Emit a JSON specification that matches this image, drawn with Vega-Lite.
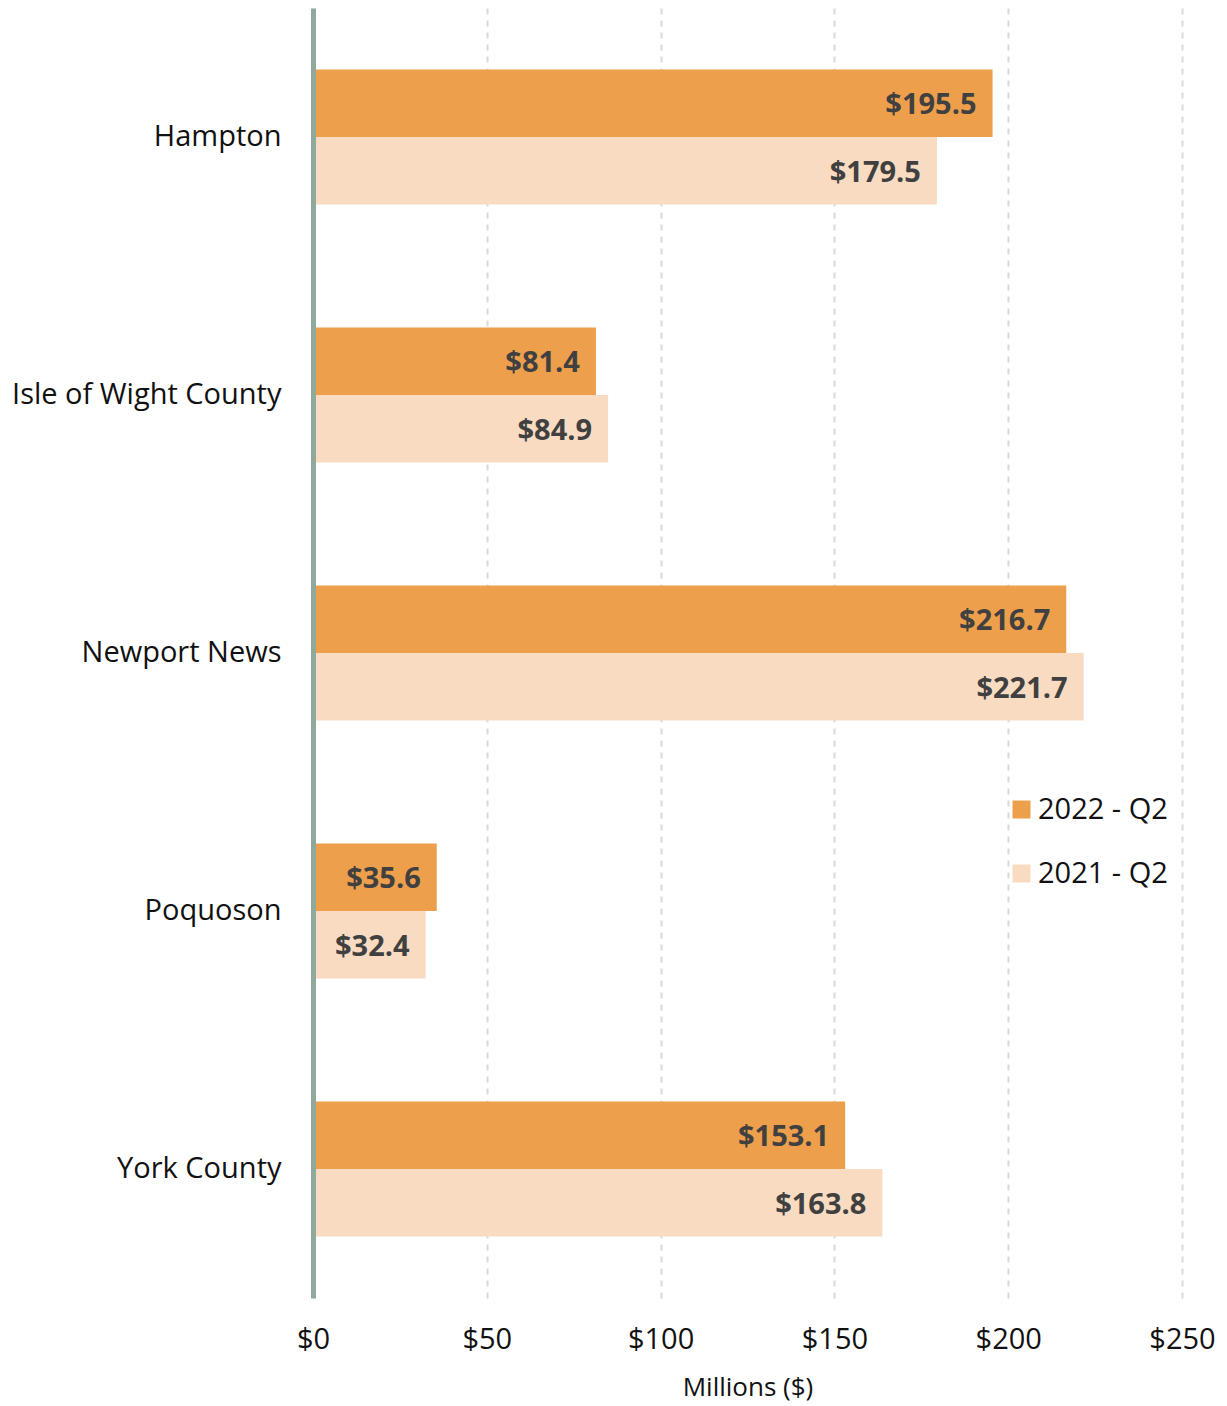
{
  "$schema": "https://vega.github.io/schema/vega-lite/v6.json",
  "autosize": "none",
  "width": 869,
  "height": 1290,
  "padding": {"left": 313, "top": 8, "right": 45, "bottom": 108},
  "background": "white",
  "config": {
    "font": "Open Sans",
    "view": {"stroke": null}
  },
  "data": {
    "values": [
      {"area": "Hampton", "period": "2022 - Q2", "value": 195.5},
      {"area": "Hampton", "period": "2021 - Q2", "value": 179.5},
      {"area": "Isle of Wight County", "period": "2022 - Q2", "value": 81.4},
      {"area": "Isle of Wight County", "period": "2021 - Q2", "value": 84.9},
      {"area": "Newport News", "period": "2022 - Q2", "value": 216.7},
      {"area": "Newport News", "period": "2021 - Q2", "value": 221.7},
      {"area": "Poquoson", "period": "2022 - Q2", "value": 35.6},
      {"area": "Poquoson", "period": "2021 - Q2", "value": 32.4},
      {"area": "York County", "period": "2022 - Q2", "value": 153.1},
      {"area": "York County", "period": "2021 - Q2", "value": 163.8}
    ]
  },
  "encoding": {
    "y": {
      "field": "area", "type": "nominal", "title": null,
      "scale": {"paddingInner": 0.477, "paddingOuter": 0.2385},
      "axis": {
        "domain": true, "domainColor": "#8fa99b", "domainWidth": 5,
        "ticks": false, "labelFontSize": 29, "labelColor": "#111111",
        "labelPadding": 32, "labelLimit": 400, "zindex": 1
      }
    },
    "yOffset": {
      "field": "period", "type": "nominal",
      "sort": ["2022 - Q2", "2021 - Q2"],
      "scale": {"paddingInner": 0, "paddingOuter": 0}
    },
    "x": {
      "field": "value", "type": "quantitative",
      "title": "Millions ($)",
      "scale": {"domain": [0, 250], "nice": false},
      "axis": {
        "values": [0, 50, 100, 150, 200, 250],
        "format": "$,.0f",
        "domain": false, "ticks": false, "labelFlush": false, "labelBound": false, "labelOverlap": false,
        "grid": true, "gridColor": "#d9d9d9", "gridDash": [6, 6], "gridWidth": 2,
        "labelFontSize": 29, "labelColor": "#111111", "labelPadding": 27,
        "titleFontSize": 26, "titleFontWeight": "normal", "titleColor": "#111111",
        "titlePadding": 20
      }
    }
  },
  "layer": [
    {
      "mark": {"type": "bar"},
      "encoding": {
        "color": {
          "field": "period", "type": "nominal",
          "sort": ["2022 - Q2", "2021 - Q2"],
          "scale": {"domain": ["2022 - Q2", "2021 - Q2"], "range": ["#EE9F4C", "#F8DBC0"]},
          "legend": {
            "title": null, "orient": "none", "legendX": 694, "legendY": 787, "padding": 0,
            "symbolType": "square", "symbolSize": 324, "symbolStrokeWidth": 0,
            "labelFontSize": 29, "labelColor": "#111111", "rowPadding": 34,
            "labelOffset": 2
          }
        }
      }
    },
    {
      "mark": {"type": "text", "align": "right", "dx": -16, "dy": 2, "fontWeight": "bold", "fontSize": 29, "color": "#404040"},
      "encoding": {
        "text": {"field": "value", "type": "quantitative", "format": "$,.1f"}
      }
    }
  ]
}
